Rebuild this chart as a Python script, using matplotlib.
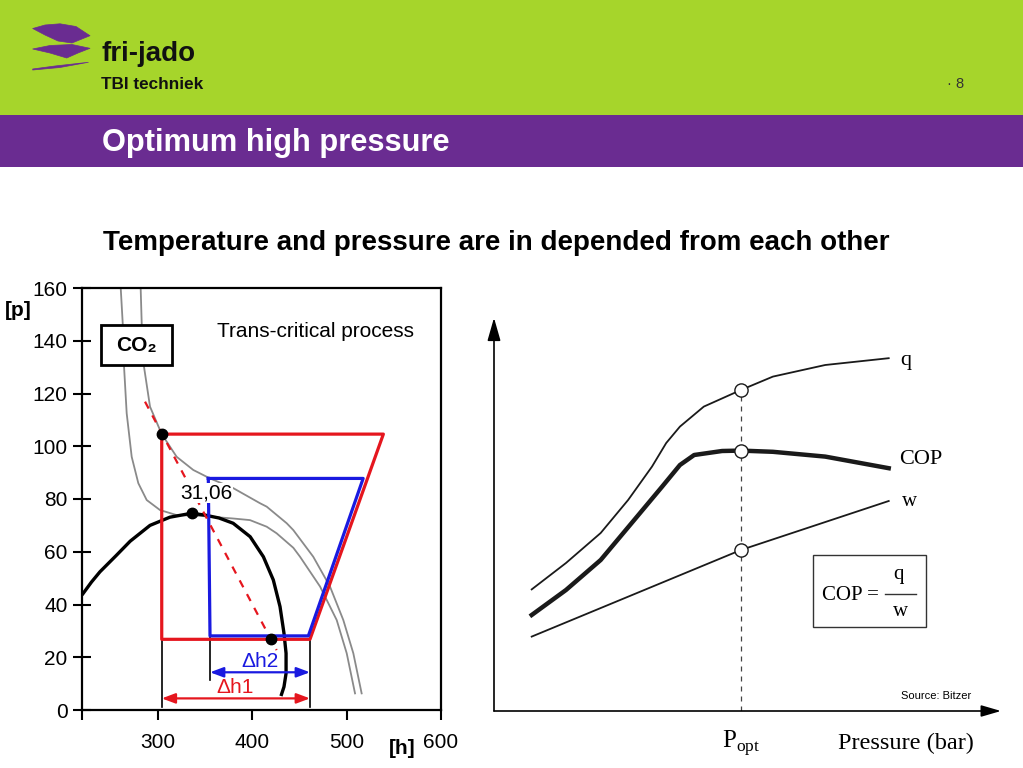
import matplotlib
matplotlib.use("Agg")
import matplotlib.pyplot as plt
from matplotlib.patches import Rectangle, Polygon

# ---------------- data (left chart: p-h diagram of CO2) ----------------
dome_h = [220, 230, 239, 256, 271, 292, 313, 336, 350, 365, 380, 398, 412, 422.5, 429.6, 433.8, 436, 436, 433.8, 430.6]
dome_p = [43.6, 48.5, 52.4, 58.5, 64, 70, 73.1, 74.6, 73.9, 72.8, 70.8, 65.7, 58.1, 49.3, 39.2, 29.1, 21.5, 13.9, 8.8, 5.3]

isoA_h = [261, 263.1, 264.5, 267.3, 272.6, 279.6, 288.5, 302.6, 320.2, 344.9, 380.2, 397.8, 415.5, 426, 443.7, 450.8,
          472, 489.6, 500.2, 509]
isoA_p = [159.9, 146.6, 130.2, 112.5, 96.0, 86.0, 79.6, 75.8, 73.9, 73.6, 72.6, 72.0, 69.5, 67.0, 61.5, 58.1,
          46.8, 34.1, 21.5, 6.3]

isoB_h = [282.1, 283.2, 285.6, 292, 304.4, 320.2, 337.8, 355.5, 380.2, 408.4, 415.5, 436.7, 443.7, 464.8, 482.5,
          496.6, 507.2, 516]
isoB_p = [159.9, 146.6, 130.2, 115, 104.6, 96.0, 91.0, 87.8, 84.1, 78.4, 77.1, 70.8, 68.2, 58.1, 46.8,
          34.1, 21.5, 6.3]

red_h = [304.4, 539, 461.3, 304.4, 304.4]
red_p = [104.6, 104.6, 26.8, 26.8, 104.6]
blue_h = [353.7, 517.6, 459.6, 355.5, 353.7]
blue_p = [87.8, 87.8, 28.1, 28.1, 87.8]

dash_h = [286.7, 426]
dash_p = [116.9, 22.7]

dots_h = [304.4, 336, 420]
dots_p = [104.6, 74.6, 26.8]

xticks_left = [220, 300, 400, 500, 600]
xlabels_left = ["", "300", "400", "500", "600"]
yticks_left = [0, 20, 40, 60, 80, 100, 120, 140, 160]

# ---------------- data (right chart: q, COP, w vs pressure) ----------------
q_x = [7.42, 14.17, 21.0, 26.4, 31.1, 33.9, 36.6, 41.3, 48.6, 54.9, 65.2, 77.7]
q_y = [30.4, 37.0, 44.5, 52.75, 61.1, 67.0, 71.1, 76.1, 80.25, 83.6, 86.5, 88.2]
cop_x = [7.42, 14.17, 21.0, 27.6, 33.1, 36.6, 39.4, 44.9, 48.6, 54.9, 65.2, 77.7]
cop_y = [24.0, 30.25, 37.75, 47.75, 56.1, 61.5, 64.0, 65.0, 65.1, 64.8, 63.6, 60.7]
w_x = [7.42, 48.6, 77.7]
w_y = [18.6, 40.25, 52.5]
popt_x = 48.6

GREEN = "#A6D52B"
PURPLE = "#6A2C91"
RED = "#E5161E"
BLUE = "#1A1AE0"
GRAY = "#8A8A8A"

plt.rcParams["font.family"] = ["Liberation Sans", "DejaVu Sans"]

fig = plt.figure(figsize=(10.23, 7.68), dpi=100)
fig.patch.set_facecolor("white")

# background / slide layer in pixel coordinates
bg = fig.add_axes([0, 0, 1, 1], zorder=0)
bg.set_xlim(0, 1023)
bg.set_ylim(768, 0)
bg.axis("off")
bg.add_patch(Rectangle((0, 0), 1023, 115, facecolor=GREEN, edgecolor="none"))
bg.add_patch(Rectangle((0, 115), 1023, 52, facecolor=PURPLE, edgecolor="none"))

logo_top = [(32.7, 28.5), (45, 25), (60, 23.8), (76, 26.5), (90, 35.7), (72, 43), (58, 41), (45, 35)]
logo_mid = [(32.7, 49), (50, 45.5), (72, 44.5), (90, 48.3), (78, 53), (66.7, 58), (50, 53)]
logo_bot = [(32.7, 69), (55, 66), (88.3, 62.3), (60, 67.5), (32.7, 70)]
for pts in (logo_top, logo_mid, logo_bot):
    bg.add_patch(Polygon(pts, closed=True, facecolor=PURPLE, edgecolor=PURPLE, lw=0.5, joinstyle="round"))

bg.text(101, 61, "fri-jado", fontsize=20, fontweight="bold", color="#111111", va="baseline")
bg.text(101, 89, "TBI techniek", fontsize=12.3, fontweight="bold", color="#111111", va="baseline")
bg.text(947, 84, "· 8", fontsize=10.5, color="#333333", va="center")
bg.text(102, 151, "Optimum high pressure", fontsize=22.2, fontweight="bold", color="white", va="baseline")
bg.text(103, 250, "Temperature and pressure are in depended from each other",
        fontsize=20, fontweight="bold", color="black", va="baseline")
bg.text(18, 310, "[p]", fontsize=15, fontweight="bold", ha="center", va="center")
bg.text(402, 748, "[h]", fontsize=15, fontweight="bold", ha="center", va="center")

# ---------------- left chart ----------------
ax = fig.add_axes([82 / 1023, (768 - 710) / 768, 359 / 1023, 422 / 768], zorder=2)
ax.set_xlim(220, 600)
ax.set_ylim(0, 160)
for s in ax.spines.values():
    s.set_linewidth(1.6)
ax.set_xticks(xticks_left)
ax.set_xticklabels(xlabels_left)
ax.set_yticks(yticks_left)
ax.tick_params(axis="y", direction="inout", length=13, width=1.5, labelsize=15, pad=4)
ax.tick_params(axis="x", direction="out", length=7.5, width=1.5, labelsize=15, pad=9)

ax.plot(isoA_h, isoA_p, color=GRAY, lw=1.3, zorder=2, solid_joinstyle="round")
ax.plot(isoB_h, isoB_p, color=GRAY, lw=1.3, zorder=2, solid_joinstyle="round")
ax.plot(dome_h, dome_p, color="black", lw=2.4, zorder=3, solid_capstyle="butt", solid_joinstyle="round")
ax.plot(red_h, red_p, color=RED, lw=2.3, zorder=4)
ax.plot(blue_h, blue_p, color=BLUE, lw=2.3, zorder=4)
ax.plot(dash_h, dash_p, color=RED, lw=1.6, ls=(0, (3.5, 3.5)), zorder=4)
ax.plot(dots_h, dots_p, "o", color="black", ms=7.5, zorder=6)

# dimension lines
ax.plot([304.4, 304.4], [26.8, 1.3], color="black", lw=1.2, zorder=3)
ax.plot([355.5, 355.5], [28.1, 11.4], color="black", lw=1.2, zorder=3)
ax.plot([461.3, 461.3], [26.8, 1.3], color="black", lw=1.2, zorder=3)
ax.annotate("", xy=(304.4, 4.4), xytext=(461.3, 4.4),
            arrowprops=dict(arrowstyle="<|-|>,head_length=0.8,head_width=0.3", color=RED, lw=1.6,
                            shrinkA=0, shrinkB=0), zorder=5)
ax.annotate("", xy=(355.5, 14.3), xytext=(461.3, 14.3),
            arrowprops=dict(arrowstyle="<|-|>,head_length=0.8,head_width=0.3", color=BLUE, lw=1.6,
                            shrinkA=0, shrinkB=0), zorder=5)
ax.text(382, 8.6, "Δh1", color=RED, fontsize=15, ha="center", va="center", zorder=6)
ax.text(408, 18.3, "Δh2", color=BLUE, fontsize=15, ha="center", va="center", zorder=6)
ax.text(352, 82.3, "31,06", fontsize=15, ha="center", va="center", zorder=5,
        bbox=dict(facecolor="white", edgecolor="none", pad=0.5))
ax.add_patch(Rectangle((239.7, 130.8), 75.8, 15.1, facecolor="white", edgecolor="black", lw=2, zorder=6))
ax.text(277.6, 138.2, "CO₂", fontsize=15, fontweight="bold", ha="center", va="center", zorder=7)
ax.text(467, 143.5, "Trans-critical process", fontsize=15, ha="center", va="center", zorder=6)

# ---------------- right chart ----------------
ax2 = fig.add_axes([494 / 1023, (768 - 711) / 768, 508 / 1023, 400 / 768], zorder=2)
ax2.set_xlim(0, 100)
ax2.set_ylim(0, 100)
ax2.axis("off")
serif = ["Liberation Serif", "DejaVu Serif"]

ax2.annotate("", xy=(0, 98.3), xytext=(0, 0),
             arrowprops=dict(arrowstyle="-|>,head_length=1.4,head_width=0.4", color="black", lw=1.2,
                             shrinkA=0, shrinkB=0))
ax2.annotate("", xy=(99.8, 0), xytext=(0, 0),
             arrowprops=dict(arrowstyle="-|>,head_length=1.2,head_width=0.35", color="black", lw=1.2,
                             shrinkA=0, shrinkB=0))
ax2.plot([popt_x, popt_x], [0, q_y[8]], color="#444444", lw=0.9, ls=(0, (4, 4)), zorder=1)
ax2.plot(q_x, q_y, color="#1a1a1a", lw=1.3, zorder=2, solid_joinstyle="round")
ax2.plot(cop_x, cop_y, color="#1a1a1a", lw=3.2, zorder=2, solid_joinstyle="round")
ax2.plot(w_x, w_y, color="#1a1a1a", lw=1.3, zorder=2)
ax2.plot([popt_x] * 3, [q_y[8], cop_y[8], w_y[1]], "o", ms=9.5, mfc="white", mec="#1a1a1a",
         mew=1.0, zorder=4)

ax2.text(80.0, 87.5, "q", fontsize=16, family=serif, ha="left", va="center")
ax2.text(79.8, 63.0, "COP", fontsize=16, family=serif, ha="left", va="center")
ax2.text(80.4, 52.5, "w", fontsize=15, family=serif, ha="left", va="center")
ax2.add_patch(Rectangle((62.8, 21.0), 22.2, 18.0, facecolor="white", edgecolor="#333333", lw=1.0))
ax2.text(64.5, 29.0, "COP =", fontsize=15, family=serif, ha="left", va="center")
ax2.text(79.7, 34.2, "q", fontsize=15, family=serif, ha="center", va="center")
ax2.plot([77.0, 83.0], [29.2, 29.2], color="#333333", lw=1.0)
ax2.text(80.0, 24.8, "w", fontsize=15, family=serif, ha="center", va="center")
ax2.text(94.0, 3.8, "Source: Bitzer", fontsize=8, ha="right", va="center")
ax2.text(popt_x, -8.0, "P$_{\\mathregular{opt}}$", fontsize=18, family=serif, ha="center", va="center")
ax2.text(94.5, -8.0, "Pressure (bar)", fontsize=17.5, family=serif, ha="right", va="center")

fig.savefig("out.png", dpi=100, facecolor="white")
